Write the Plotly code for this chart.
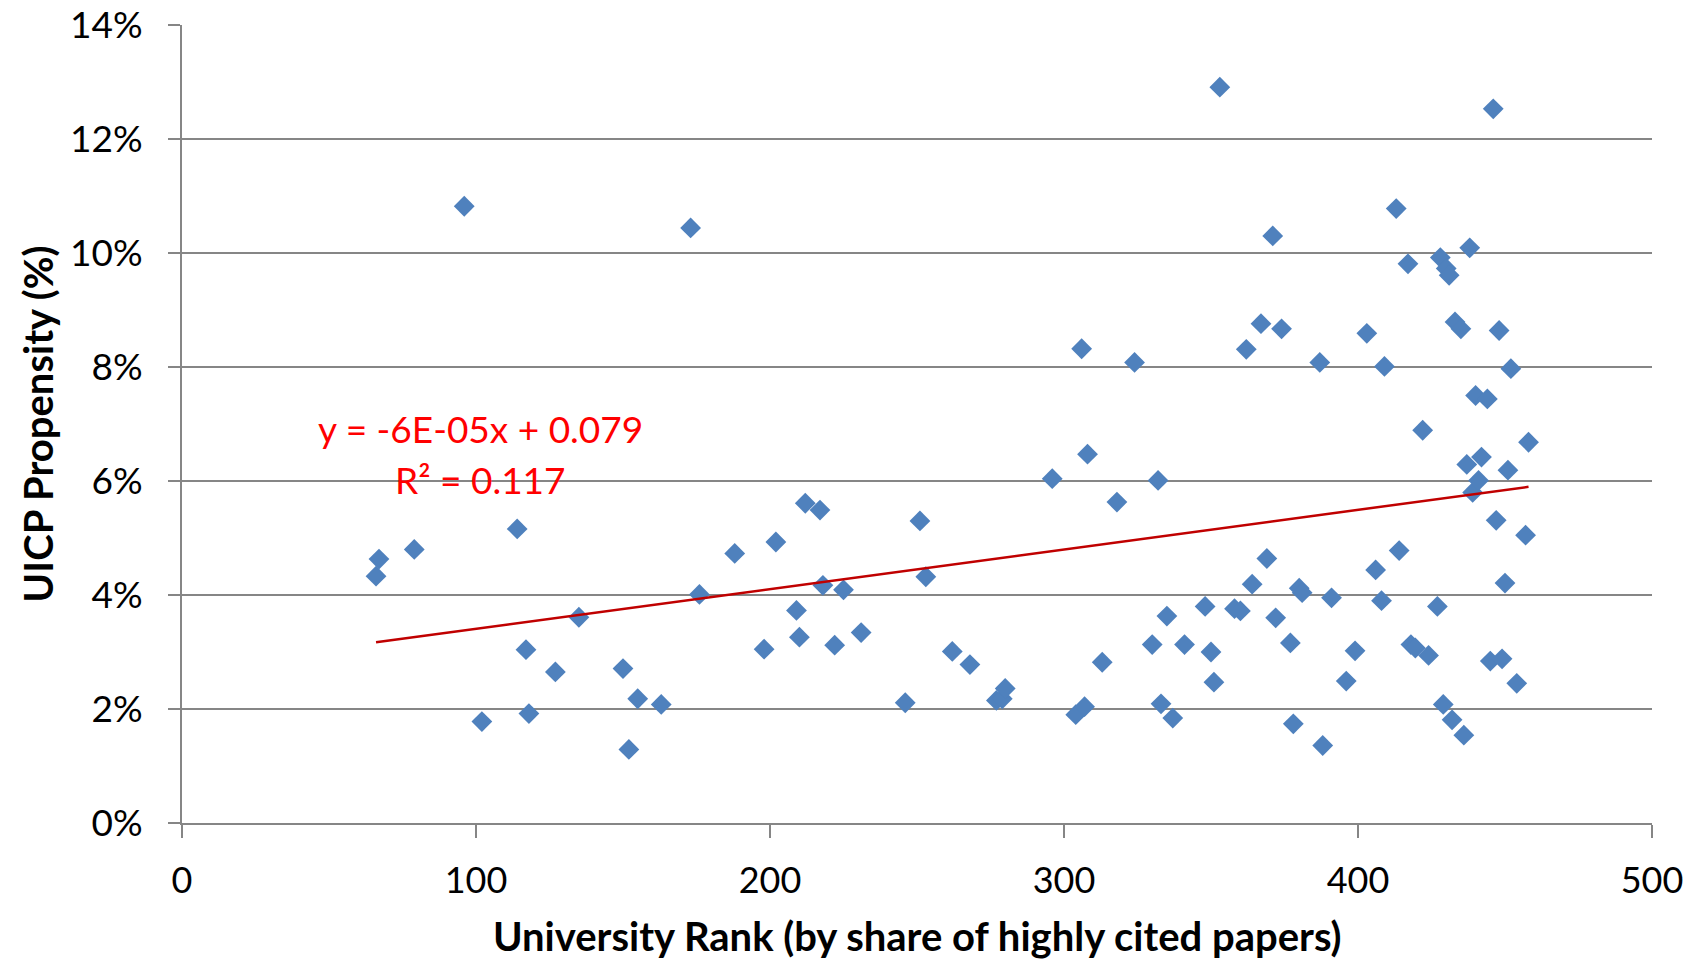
import numpy as np
import plotly.graph_objects as go

# University rank (x) and UICP propensity (fraction, y)
rank = [66, 67, 79, 96, 102, 114, 117, 118, 127, 135, 150, 152, 155, 163, 173, 176, 188, 198,
        202, 209, 210, 212, 217, 218, 222, 225, 231, 246, 251, 253, 262, 268, 277, 279, 280,
        296, 304, 306, 307, 308, 313, 318, 324, 330, 332, 333, 335, 337, 341, 348, 350, 351,
        353, 358, 360, 362, 364, 367, 369, 371, 372, 374, 377, 378, 380, 381, 387, 388, 391,
        396, 399, 403, 406, 408, 409, 413, 414, 417, 418, 419.5, 422, 424, 427, 428, 429, 430,
        431, 432, 433, 435, 436, 437, 438, 439, 440, 441, 442, 444, 445, 446, 447, 448, 449,
        450, 451, 452, 454, 457, 458]
propensity_pct = [4.33, 4.63, 4.80, 10.82, 1.78, 5.16, 3.04, 1.92, 2.65, 3.61, 2.71, 1.29, 2.18,
                  2.08, 10.44, 4.01, 4.73, 3.05, 4.93, 3.73, 3.26, 5.61, 5.49, 4.17, 3.12, 4.09,
                  3.34, 2.11, 5.30, 4.32, 3.01, 2.78, 2.15, 2.18, 2.36, 6.04, 1.90, 8.32, 2.04,
                  6.47, 2.82, 5.63, 8.08, 3.13, 6.01, 2.09, 3.63, 1.84, 3.13, 3.80, 3.00, 2.47,
                  12.91, 3.76, 3.72, 8.31, 4.19, 8.76, 4.64, 10.30, 3.60, 8.67, 3.16, 1.74, 4.12,
                  4.04, 8.08, 1.36, 3.95, 2.49, 3.02, 8.59, 4.44, 3.90, 8.01, 10.78, 4.78, 9.81,
                  3.13, 3.07, 6.89, 2.94, 3.80, 9.92, 2.08, 9.73, 9.61, 1.81, 8.79, 8.67, 1.54,
                  6.29, 10.09, 5.80, 7.50, 6.01, 6.42, 7.44, 2.84, 12.53, 5.31, 8.64, 2.88, 4.21,
                  6.19, 7.97, 2.45, 5.05, 6.68]
propensity = [v / 100 for v in propensity_pct]

x_ticks = [0, 100, 200, 300, 400, 500]
y_ticks = [0, 0.02, 0.04, 0.06, 0.08, 0.10, 0.12, 0.14]
x_title = "University Rank (by share of highly cited papers)"
y_title = "UICP Propensity (%)"
eq_line1 = "y = -6E-05x + 0.079"
eq_line2 = "R² = 0.117"

# linear trend fitted to the data
xa = np.array(rank, dtype=float)
ya = np.array(propensity)
slope, intercept = np.polyfit(xa, ya, 1)
trend_x = [xa.min(), xa.max()]
trend_y = [slope * v + intercept for v in trend_x]

GRID = "#868686"
FONT = "Lato"

fig = go.Figure()
fig.add_trace(go.Scatter(x=rank, y=propensity, mode="markers",
                         marker=dict(symbol="diamond", size=16, color="#4F81BD",
                                     line=dict(width=0)),
                         showlegend=False, hoverinfo="x+y"))
fig.add_trace(go.Scatter(x=trend_x, y=trend_y, mode="lines",
                         line=dict(color="#C00000", width=2.5),
                         showlegend=False, hoverinfo="skip"))

fig.add_annotation(x=101.5, y=0.0692, xref="x", yref="y", text=eq_line1, showarrow=False,
                   font=dict(family=FONT, size=37, color="#FF0000"))
fig.add_annotation(x=101.5, y=0.0603, xref="x", yref="y", text=eq_line2, showarrow=False,
                   font=dict(family=FONT, size=37, color="#FF0000"))

# axis titles
fig.add_annotation(x=0.5, y=-0.142, xref="paper", yref="paper", text=x_title, showarrow=False,
                   xanchor="center", yanchor="middle",
                   font=dict(family=FONT, size=40, weight="bold", color="black"))
fig.add_annotation(x=-0.0977, y=0.5, xref="paper", yref="paper", text=y_title, showarrow=False,
                   xanchor="center", yanchor="middle", textangle=-90,
                   font=dict(family=FONT, size=40, weight="bold", color="black"))

fig.update_layout(
    width=1695, height=959,
    margin=dict(l=182, r=43, t=25, b=136, autoexpand=False),
    paper_bgcolor="white", plot_bgcolor="white",
    font=dict(family=FONT, size=36, color="black"),
    xaxis=dict(range=[0, 500], tickvals=x_ticks, showgrid=False, zeroline=False,
               showline=True, linecolor=GRID, linewidth=2, automargin=False,
               ticks="outside", ticklen=13, tickwidth=1.5, tickcolor=GRID,
               ticklabelstandoff=12,
               tickfont=dict(family=FONT, size=36)),
    yaxis=dict(range=[0, 0.14], tickvals=y_ticks, tickformat=".0%",
               showgrid=True, gridcolor=GRID, gridwidth=1.5, zeroline=False,
               showline=True, linecolor=GRID, linewidth=2, automargin=False,
               ticks="outside", ticklen=12, tickwidth=1.5, tickcolor=GRID,
               ticklabelstandoff=18,
               tickfont=dict(family=FONT, size=37)),
)

fig.write_html("out.html", config={"displayModeBar": False})
with open("out.html", encoding="utf-8") as f:
    html = f.read()
html = html.replace("<head>", "<head><style>html,body{margin:0;padding:0;overflow:hidden;}</style>", 1)
with open("out.html", "w", encoding="utf-8") as f:
    f.write(html)
